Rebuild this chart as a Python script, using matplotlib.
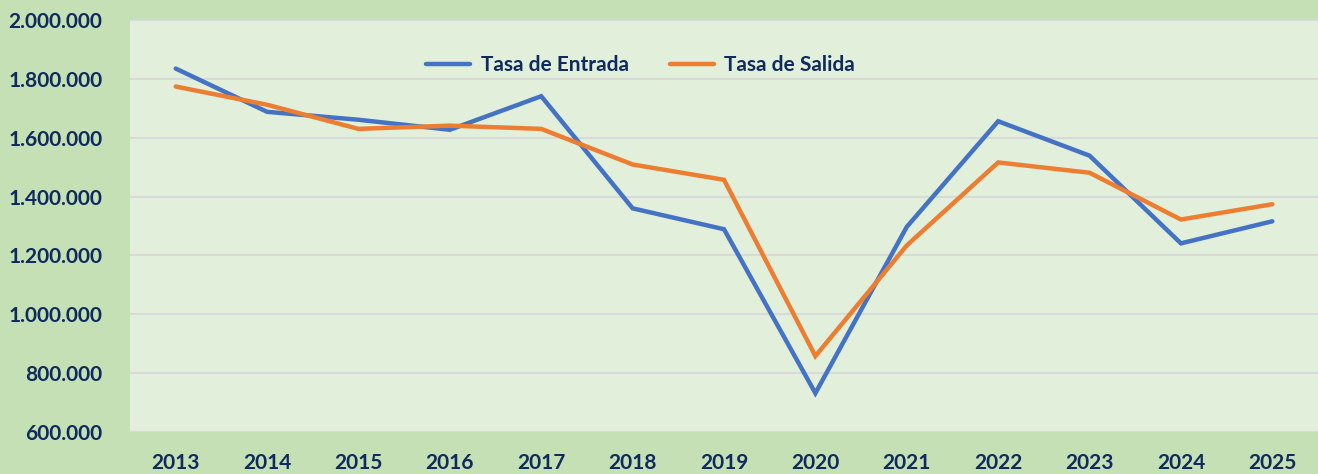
import matplotlib
matplotlib.use("Agg")
import matplotlib.pyplot as plt
from matplotlib.ticker import FuncFormatter

years = ["2013", "2014", "2015", "2016", "2017", "2018", "2019",
         "2020", "2021", "2022", "2023", "2024", "2025"]
tasa_entrada = [1835000, 1688000, 1661000, 1627000, 1741000, 1360000, 1289000,
                732000, 1297000, 1656000, 1539000, 1241000, 1316000]
tasa_salida = [1774000, 1712000, 1630000, 1641000, 1630000, 1509000, 1457000,
               858000, 1234000, 1516000, 1481000, 1322000, 1374000]

navy = "#0e2a5e"
plt.rcParams["font.family"] = ["Lato", "DejaVu Sans"]
plt.rcParams["font.weight"] = "bold"

fig = plt.figure(figsize=(13.18, 4.74), dpi=100, facecolor="#c5e0b4")
ax = fig.add_axes([130 / 1318, 42 / 474, 1188 / 1318, 412 / 474])
ax.set_facecolor("#e2efda")

x = range(len(years))
ax.plot(x, tasa_entrada, color="#4472c4", lw=3.2, label="Tasa de Entrada",
        solid_capstyle="round", solid_joinstyle="miter", zorder=3)
ax.plot(x, tasa_salida, color="#ed7d31", lw=3.2, label="Tasa de Salida",
        solid_capstyle="round", solid_joinstyle="miter", zorder=3)

ax.set_xlim(-0.5, len(years) - 0.5)
ax.set_ylim(600000, 2000000)
ax.set_yticks(range(600000, 2000001, 200000))
ax.yaxis.set_major_formatter(FuncFormatter(lambda v, p: f"{int(v):,}".replace(",", ".")))
ax.set_xticks(list(x))
ax.set_xticklabels(years)

ax.grid(axis="y", color="#d9d9d9", lw=1.5, zorder=0)
for s in ax.spines.values():
    s.set_visible(False)
ax.tick_params(axis="both", length=0, labelsize=15, colors=navy)
ax.tick_params(axis="y", pad=20)
ax.tick_params(axis="x", pad=15)
for lbl in ax.get_xticklabels() + ax.get_yticklabels():
    lbl.set_fontweight("bold")

leg = ax.legend(loc="center", bbox_to_anchor=(0.43, 0.89), ncol=2, frameon=False,
                fontsize=15, handlelength=2.1, columnspacing=2.0, handletextpad=0.5)
for t in leg.get_texts():
    t.set_color(navy)
    t.set_fontweight("bold")

fig.savefig("out.png", dpi=100, facecolor=fig.get_facecolor())
